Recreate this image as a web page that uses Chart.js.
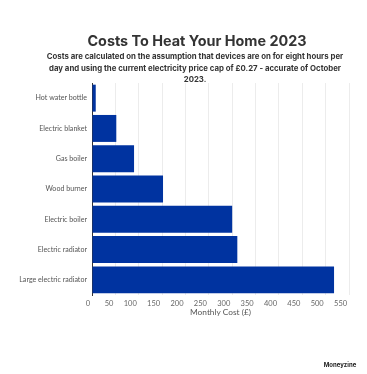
<!DOCTYPE html>
<html><head><meta charset="utf-8">
<script src="https://cdn.jsdelivr.net/npm/chart.js@4/dist/chart.umd.min.js"></script>
<style>
html,body{margin:0;padding:0;background:#fff;overflow:hidden;}
#wrap{position:relative;width:367px;height:374px;}
#c{position:absolute;left:0;top:0;}
.t{position:absolute;text-align:center;color:#333;font-family:Inter,"Open Sans",sans-serif;font-weight:700;white-space:nowrap;}
#title{left:27px;width:340px;top:31px;font-size:14.4px;line-height:20px;}
#sub{left:25px;width:340px;top:51px;font-size:7.8px;line-height:11.5px;}
#brand{left:310px;width:60px;top:361px;font-size:6px;line-height:8px;color:#222;}
</style></head>
<body><div id="wrap">
<canvas id="c" width="367" height="374"></canvas>
<div class="t" id="title">Costs To Heat Your Home 2023</div>
<div class="t" id="sub">Costs are calculated on the assumption that devices are on for eight hours per<br>day and using the current electricity price cap of £0.27 - accurate of October<br>2023.</div>
<div class="t" id="brand">Moneyzine</div>
</div>
<script>
const categories = ['Hot water bottle','Electric blanket','Gas boiler','Wood burner','Electric boiler','Electric radiator','Large electric radiator'];
const monthlyCost = [8, 52, 90, 152, 300, 311, 518];
const xTicks = [0,50,100,150,200,250,300,350,400,450,500,550];
const axisTitle = 'Monthly Cost (£)';

new Chart(document.getElementById('c'), {
  type: 'bar',
  data: {
    labels: categories,
    datasets: [{
      data: monthlyCost,
      backgroundColor: '#0033a0',
      borderWidth: 0,
      barPercentage: 0.89,
      categoryPercentage: 1.0
    }]
  },
  options: {
    indexAxis: 'y',
    responsive: false,
    animation: false,
    devicePixelRatio: 1,
    layout: { padding: { top: 83, right: 18, bottom: 57, left: 0 } },
    plugins: { legend: { display: false }, tooltip: { enabled: false } },
    scales: {
      x: {
        min: 0, max: 550,
        afterBuildTicks: s => { s.ticks = xTicks.map(v => ({ value: v })); },
        grid: { color: '#ececec', lineWidth: 1, drawTicks: false },
        border: { display: false },
        ticks: {
          align: 'end', padding: 4, color: '#666',
          font: { family: 'Lato', size: 7.5 },
          callback: v => v + ' '
        },
        title: { display: true, text: axisTitle, color: '#555', font: { family: 'Lato', size: 8.3 }, padding: { top: -5, bottom: 0 } }
      },
      y: {
        afterFit: s => { s.width = 92; },
        grid: { display: false, drawTicks: false },
        border: { display: true, color: '#333', width: 1 },
        ticks: { padding: 5, color: '#555', font: { family: 'Lato', size: 7.1 } }
      }
    }
  }
});
</script>
</body></html>
